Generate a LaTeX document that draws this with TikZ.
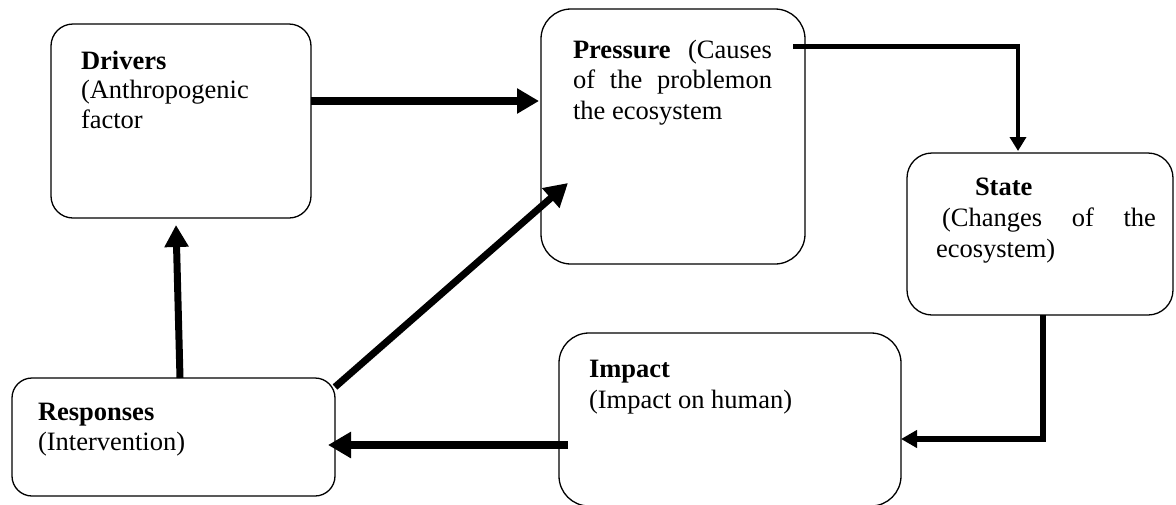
\documentclass[tikz,border=0pt]{standalone}
\usepackage{fontspec}
\setmainfont{Liberation Serif}
\usetikzlibrary{arrows.meta,calc}
\begin{document}
\begin{tikzpicture}[x=1pt,y=-1pt,
  box/.style={draw, line width=1.3pt, inner sep=0pt, outer sep=0pt},
  txt/.style={anchor=base west, inner sep=0pt, outer sep=0pt},
  conn/.style={draw, black}
]
\fill[white] (0,0) rectangle (1176,504);
\useasboundingbox (0,0) rectangle (1176,504);

% boxes
\node[box, rounded corners=22pt, minimum width=260pt, minimum height=194pt] (drivers) at (181,121) {};
\node[box, rounded corners=30pt, minimum width=264pt, minimum height=255pt] (pressure) at (673,136.5) {};
\node[box, rounded corners=25pt, minimum width=266pt, minimum height=162pt] (state) at (1040,234) {};
\node[box, rounded corners=30pt, minimum width=342pt, minimum height=173pt] (impact) at (730,419.5) {};
\node[box, rounded corners=20pt, minimum width=323pt, minimum height=118pt] (responses) at (173.5,437) {};

% texts
\node[txt, font=\fontsize{26.5pt}{29.5pt}\selectfont] (driverst) at (81,69)
  {\parbox[t]{225pt}{\textbf{Drivers}\\(Anthropogenic\\factor}};
\node[txt, font=\fontsize{26.5pt}{30.5pt}\selectfont] (pressuret) at (573,58)
  {\parbox[t]{225pt}{\makebox[199pt][s]{\textbf{Pressure} (Causes}\\\makebox[199pt][s]{of the problemon}\\the ecosystem}};
\node[txt, font=\fontsize{26.5pt}{31pt}\selectfont] (statet) at (936,195)
  {\parbox[t]{225pt}{\hspace*{39pt}\textbf{State}\\\hspace*{6pt}\makebox[214pt][s]{(Changes of the}\\ecosystem)}};
\node[txt, font=\fontsize{26.5pt}{31pt}\selectfont] (impactt) at (589,377)
  {\parbox[t]{300pt}{\textbf{Impact}\\(Impact on human)}};
\node[txt, font=\fontsize{26.5pt}{30pt}\selectfont] (responsest) at (38,420)
  {\parbox[t]{280pt}{\textbf{Responses}\\(Intervention)}};

% connectors
\coordinate (d1) at ([yshift=20pt]drivers.east);
\draw[conn, line width=7.5pt, -{Triangle[length=22pt,width=24pt]}] (d1) -- ([xshift=-2pt]d1 -| pressure.west);

\coordinate (p1) at ([shift={(-12pt,90pt)}]pressure.east);
\coordinate (c1) at ([xshift=-22pt]state.north |- p1);
\draw[conn, line width=5.5pt] (p1) -- ([xshift=1.75pt]c1);
\draw[conn, line width=3.5pt, -{Triangle[length=14pt,width=16pt]}] ([yshift=2.75pt]c1) -- ([xshift=-22pt,yshift=2pt]state.north);

\coordinate (s1) at ([xshift=3pt]state.south);
\draw[conn, line width=6.5pt, -{Triangle[length=16pt,width=17pt]}] (s1) |- ([yshift=-19.5pt]impact.east);

\coordinate (i1) at ([shift={(9pt,-25.5pt)}]impact.west);
\draw[conn, line width=8pt, -{Triangle[length=23pt,width=25pt]}] (i1) -- ([xshift=-7pt]responses.east |- i1);

\draw[conn, line width=7pt, -{Triangle[length=22pt,width=23pt]}] ([xshift=6.5pt]responses.north) -- ([shift={(-5pt,-7pt)}]drivers.south);

\draw[conn, line width=7pt, -{Triangle[length=23pt,width=25pt]}] ([yshift=-9pt]responses.north east) -- ([shift={(27pt,-46.5pt)}]pressure.west);
\end{tikzpicture}
\end{document}
